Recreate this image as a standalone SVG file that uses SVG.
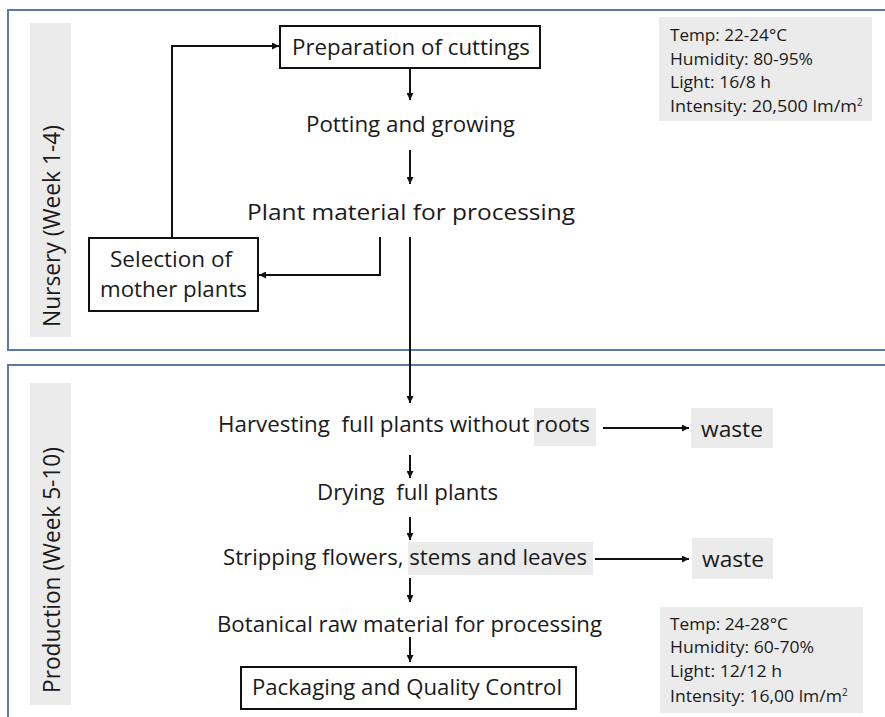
<svg xmlns="http://www.w3.org/2000/svg" width="885" height="717" viewBox="0 0 885 717">
<defs>
<marker id="ah" viewBox="0 0 10 10" refX="10" refY="5" markerWidth="7" markerHeight="7" markerUnits="userSpaceOnUse" orient="auto"><path d="M0,0 L10,5 L0,10 z" fill="#111"/></marker>
<style>
.t{font-family:"Open Sans","Liberation Sans",sans-serif;font-size:22px;fill:#1a1a1a;white-space:pre}
.r{font-size:23px}
.s{font-family:"Open Sans","Liberation Sans",sans-serif;font-size:16px;fill:#1a1a1a}
.panel{fill:none;stroke:#5b79ad;stroke-width:2}
.grey{fill:#ebebeb}
.box{fill:#fff;stroke:#111;stroke-width:2}
.c{fill:none;stroke:#111;stroke-width:2}
</style>
</defs>
<rect width="885" height="717" fill="#fff"/>
<g id="panel-nursery">
<rect class="panel" x="8" y="10" width="890" height="340"/>
<rect class="grey" x="30" y="23" width="41" height="314"/>
<text class="t r" transform="translate(60,226) rotate(-90)" text-anchor="middle" textLength="202" lengthAdjust="spacingAndGlyphs">Nursery (Week 1-4)</text>
</g>
<g id="panel-production">
<rect class="panel" x="8" y="365" width="890" height="370"/>
<rect class="grey" x="30" y="383" width="41" height="322"/>
<text class="t r" transform="translate(60,570) rotate(-90)" text-anchor="middle" textLength="246" lengthAdjust="spacingAndGlyphs">Production (Week 5-10)</text>
</g>
<g id="info-nursery">
<rect class="grey" x="659" y="17" width="213" height="104"/>
<text class="s" x="670" y="41" textLength="117" lengthAdjust="spacingAndGlyphs">Temp: 22-24°C</text>
<text class="s" x="670" y="65" textLength="143" lengthAdjust="spacingAndGlyphs">Humidity: 80-95%</text>
<text class="s" x="670" y="88" textLength="101" lengthAdjust="spacingAndGlyphs">Light: 16/8 h</text>
<text class="s" x="670" y="112"><tspan textLength="187" lengthAdjust="spacingAndGlyphs">Intensity: 20,500 lm/m</tspan><tspan font-size="10" dy="-6">2</tspan></text>
</g>
<g id="info-production">
<rect class="grey" x="660" y="607" width="203" height="106"/>
<text class="s" x="670" y="630" textLength="118" lengthAdjust="spacingAndGlyphs">Temp: 24-28°C</text>
<text class="s" x="670" y="653" textLength="144" lengthAdjust="spacingAndGlyphs">Humidity: 60-70%</text>
<text class="s" x="670" y="677" textLength="112" lengthAdjust="spacingAndGlyphs">Light: 12/12 h</text>
<text class="s" x="670" y="702"><tspan textLength="172" lengthAdjust="spacingAndGlyphs">Intensity: 16,00 lm/m</tspan><tspan font-size="10" dy="-6">2</tspan></text>
</g>
<g id="n-prep">
<rect class="box" x="280" y="26" width="260" height="42"/>
<text class="t" x="292" y="55" textLength="238" lengthAdjust="spacingAndGlyphs">Preparation of cuttings</text>
</g>
<g id="n-potting">
<text class="t" x="306" y="132" textLength="209" lengthAdjust="spacingAndGlyphs">Potting and growing</text>
</g>
<g id="n-plant">
<text class="t" x="247" y="220" textLength="328" lengthAdjust="spacingAndGlyphs">Plant material for processing</text>
</g>
<g id="n-selection">
<rect class="box" x="89" y="238" width="169" height="73"/>
<text class="t" x="110" y="267" textLength="122" lengthAdjust="spacingAndGlyphs">Selection of</text>
<text class="t" x="100" y="297" textLength="147" lengthAdjust="spacingAndGlyphs">mother plants</text>
</g>
<g id="n-harvest">
<rect class="grey" x="534" y="408" width="62" height="38"/>
<text class="t" x="218" y="432" textLength="372" lengthAdjust="spacingAndGlyphs">Harvesting  full plants without roots</text>
</g>
<g id="n-waste1">
<rect class="grey" x="691" y="408" width="82" height="40"/>
<text class="t" x="701" y="437" textLength="62" lengthAdjust="spacingAndGlyphs">waste</text>
</g>
<g id="n-drying">
<text class="t" x="317" y="500" textLength="181" lengthAdjust="spacingAndGlyphs">Drying  full plants</text>
</g>
<g id="n-strip">
<rect class="grey" x="408" y="542" width="185" height="33"/>
<text class="t" x="223" y="565" textLength="364" lengthAdjust="spacingAndGlyphs">Stripping flowers, stems and leaves</text>
</g>
<g id="n-waste2">
<rect class="grey" x="692" y="538" width="81" height="41"/>
<text class="t" x="702" y="567" textLength="62" lengthAdjust="spacingAndGlyphs">waste</text>
</g>
<g id="n-botanical">
<text class="t" x="217" y="632" textLength="385" lengthAdjust="spacingAndGlyphs">Botanical raw material for processing</text>
</g>
<g id="n-pack">
<rect class="box" x="241" y="667" width="335" height="42"/>
<text class="t" x="252" y="695" textLength="310" lengthAdjust="spacingAndGlyphs">Packaging and Quality Control</text>
</g>
<g id="connectors">
<path class="c" d="M410,68 V100" marker-end="url(#ah)"/>
<path class="c" d="M410,150 V184" marker-end="url(#ah)"/>
<path class="c" d="M380,237 V275 H259" marker-end="url(#ah)"/>
<path class="c" d="M172,238 V46 H279" marker-end="url(#ah)"/>
<path class="c" d="M410,237 V403" marker-end="url(#ah)"/>
<path class="c" d="M603,428 H689" marker-end="url(#ah)"/>
<path class="c" d="M410,455 V478" marker-end="url(#ah)"/>
<path class="c" d="M410,517 V540" marker-end="url(#ah)"/>
<path class="c" d="M595,559 H689" marker-end="url(#ah)"/>
<path class="c" d="M410,578 V602" marker-end="url(#ah)"/>
<path class="c" d="M410,637 V662" marker-end="url(#ah)"/>
</g>
</svg>
